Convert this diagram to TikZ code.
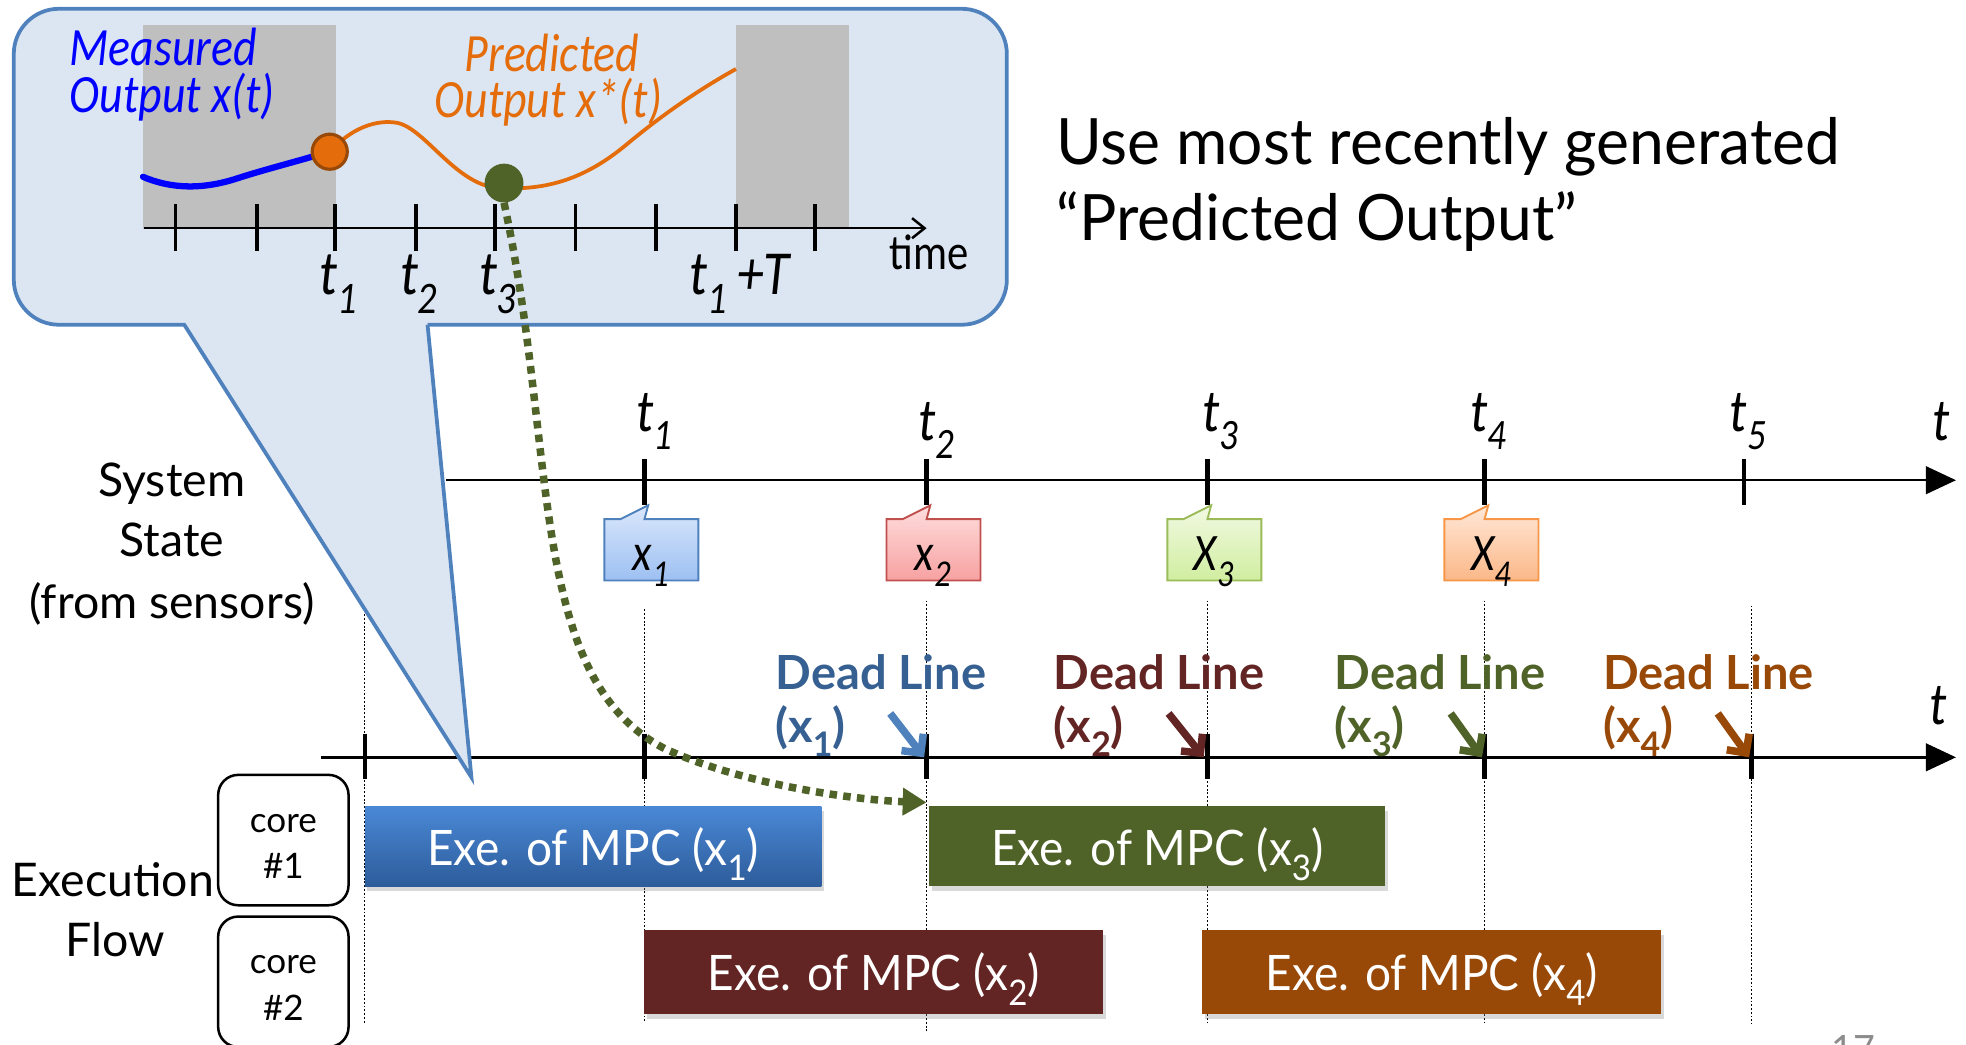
\documentclass[tikz,border=0pt]{standalone}
\usepackage{graphicx}
\usepackage{fontspec}
\setmainfont{Lato}
\newfontfamily\gill{Lato}
\newfontfamily\gillr[FakeStretch=0.975]{Lato}
\newfontfamily\gillc[FakeStretch=0.94]{Lato}
\newfontfamily\calc[FakeStretch=0.85]{Carlito}
\usetikzlibrary{arrows.meta,shadows}
\definecolor{cfill}{HTML}{DCE6F2}
\definecolor{cborder}{HTML}{4F81BD}
\definecolor{greyr}{HTML}{BFBFBF}
\definecolor{mblue}{HTML}{0000FF}
\definecolor{morange}{HTML}{E46C0A}
\definecolor{mbrown}{HTML}{984807}
\definecolor{olive}{HTML}{4F6228}
\definecolor{dlblue}{HTML}{376092}
\definecolor{dlred}{HTML}{632523}
\definecolor{exeblueT}{HTML}{4A88D6}
\definecolor{exeblueB}{HTML}{2D5C9A}
\definecolor{cbT}{HTML}{DAE7FB}
\definecolor{cbB}{HTML}{9DC0F2}
\definecolor{crT}{HTML}{FFDEDE}
\definecolor{crB}{HTML}{F7A1A1}
\definecolor{crD}{HTML}{C0504D}
\definecolor{cgT}{HTML}{F2F9E3}
\definecolor{cgB}{HTML}{D0EEA0}
\definecolor{cgD}{HTML}{9BBB59}
\definecolor{coT}{HTML}{FFE8D9}
\definecolor{coB}{HTML}{FBB888}
\definecolor{coD}{HTML}{F79646}
\newcommand{\fsz}[2]{\fontsize{#1}{#2}\selectfont}
\newcommand{\sbs}[1]{\raisebox{-0.3em}{\scalebox{0.72}{#1}}}
\pgfdeclareradialshading{coreshade}{\pgfpoint{0bp}{0bp}}{color(0bp)=(white); color(30bp)=(white); color(50bp)=(black!30); color(72bp)=(black!45)}
\tikzset{
  tk/.style={line width=3.5pt},
  ctk/.style={line width=3pt},
  vdot/.style={line width=1pt, dash pattern=on 1.5pt off 1.5pt},
  axisline/.style={line width=2pt},
  dlarrow/.style={line width=6pt, -{Straight Barb[length=11pt,width=22pt]}},
  exebox/.style={minimum width=364pt, minimum height=64pt, inner sep=0pt, text=white,
     text height=31pt, text depth=0pt,
     font=\gillc\fsz{39}{45}, drop shadow={shadow xshift=2pt, shadow yshift=-4pt, opacity=0.3}},
  corebox/.style={draw, line width=2pt, rounded corners=16pt, minimum width=104pt, minimum height=104pt,
     shade, shading=coreshade, inner sep=0pt},
  coretext/.style={align=center, font=\gill\fsz{28}{37}, inner sep=0pt},
  scall/.style={line width=1.5pt},
  tlab/.style={anchor=base, font=\calc\itshape\fsz{48}{50}},
  clab/.style={anchor=base, font=\calc\itshape\fsz{50}{52}},
  slab/.style={anchor=base, font=\calc\itshape\fsz{42}{46}},
  dltext/.style={anchor=base west, font=\gill\bfseries\fsz{37.5}{40}},
  sidetext/.style={anchor=base, font=\gill\fsz{37}{40}},
}
\begin{document}
\begin{tikzpicture}[x=1pt,y=-1pt]
\useasboundingbox (0,0) rectangle (1568,833);

% dotted verticals
\foreach \xx/\ya/\yb in {291/490/816, 514/486/816, 739/479/824, 963/479/816, 1184/479/816, 1397/483/817}
  \draw[vdot] (\xx,\ya) -- (\xx,\yb);

% top timeline
\coordinate (ta0) at (356,383);
\coordinate (ta1) at (1560,383);
\draw[axisline, -{Triangle[length=24pt,width=22pt]}] (ta0) -- (ta1);
\foreach \xx in {514,739,963,1184,1391}
  \draw[tk] (\xx,366) -- (\xx,403);

% bottom timeline
\coordinate (ba0) at (256,604);
\coordinate (ba1) at (1560,604);
\draw[axisline, -{Triangle[length=24pt,width=22pt]}] (ba0) -- (ba1);
\foreach \xx in {291,514,739,963,1184,1397}
  \draw[tk] (\xx,585) -- (\xx,621);

% big callout
\draw[fill=cfill, draw=cborder, line width=3pt, rounded corners=36pt] (11,7) rectangle (803,259);
\fill[cfill] (148,250) -- (148,259) -- (376,620) -- (341,259) -- (341,250) -- cycle;
\draw[cborder, line width=3pt, line join=miter] (147,259) -- (376,620) -- (341,259);

% inside callout
\fill[greyr] (114,20) rectangle (268,183);
\fill[greyr] (587,20) rectangle (677,183);
\coordinate (ca0) at (115,182);
\coordinate (ca1) at (739,182);
\draw[line width=2pt, -{Straight Barb[length=10pt,width=16pt]}] (ca0) -- (ca1);
\foreach \xx in {140,205,267,332,395,459,523,587,650}
  \draw[ctk] (\xx,163) -- (\xx,200);
\draw[mblue, line width=5pt, line cap=round] (114,141) .. controls (135,150) and (160,152) .. (190,142) .. controls (215,134) and (240,128) .. (262,121);
\draw[morange, line width=3pt] (262,122) .. controls (280,102) and (300,95) .. (317,98) .. controls (340,103) and (365,150) .. (400,150) .. controls (440,152) and (470,140) .. (500,115) .. controls (530,90) and (560,70) .. (587,55);
\node[circle, fill=morange, draw=mbrown, line width=2.5pt, minimum size=28pt, inner sep=0pt] (odot) at (263,121) {};
\node[circle, fill=olive, minimum size=31pt, inner sep=0pt] (gdot) at (402,146) {};

\node[anchor=base west, text=mblue, font=\calc\itshape\fsz{43}{46}] (meas1) at (52,52) {Measured};
\node[anchor=base west, text=mblue, font=\calc\itshape\fsz{43}{46}] (meas2) at (52,90) {Output x(t)};
\node[anchor=base west, text=morange, font=\calc\itshape\fsz{43}{46}] (pred1) at (367,57) {Predicted};
\node[anchor=base west, text=morange, font=\calc\itshape\fsz{43}{46}] (pred2) at (343,94) {Output x*(t)};

\node[clab] (ct1) at (270,235) {t\sbs{1}};
\node[clab] (ct2) at (334,235) {t\sbs{2}};
\node[clab] (ct3) at (397,235) {t\sbs{3}};
\node[clab] (ct1T) at (590,235) {t\sbs{1}\,+T};
\node[anchor=base, font=\calc\fsz{40}{42}] (ctime) at (741,215) {time};

% right text
\node[anchor=base west, font=\gillr\fsz{51}{56}] (use1) at (839,131) {Use most recently generated};
\node[anchor=base west, font=\gillr\fsz{51}{56}] (use2) at (839,192) {“Predicted Output”};

% left texts
\node[sidetext] (sys1) at (137,396) {System};
\node[sidetext] (sys2) at (137,444) {State};
\node[sidetext] (sys3) at (137,493) {(from sensors)};
\node[sidetext] (ex1) at (90,715) {Execution};
\node[sidetext] (ex2) at (92,763) {Flow};

% top timeline labels
\node[tlab] (t1) at (522,344) {t\sbs{1}};
\node[tlab] (t2) at (747,351) {t\sbs{2}};
\node[tlab] (t3) at (973,344) {t\sbs{3}};
\node[tlab] (t4) at (1187,344) {t\sbs{4}};
\node[tlab] (t5) at (1394,344) {t\sbs{5}};
\node[tlab] (tt) at (1548,351) {t};
\node[tlab] (tb) at (1546,578) {t};

% small callouts
\foreach \xx/\ct/\cb/\cd/\lab in {514/cbT/cbB/cborder/x\sbs{1}, 739/crT/crB/crD/x\sbs{2}, 963/cgT/cgB/cgD/X\sbs{3}, 1184/coT/coB/coD/X\sbs{4}}{
  \shade[top color=\ct, bottom color=\cb, draw=\cd, scall]
    (\xx-32,414) -- (\xx-19,414) -- (\xx+3,403) -- (\xx,414) -- (\xx+43,414) -- (\xx+43,463) -- (\xx-32,463) -- cycle;
  \node[slab] at (\xx+5,455) {\lab};
}

% dead lines
\node[dltext, text=dlblue] (d1a) at (615,550) {Dead Line};
\node[dltext, text=dlblue] (d1b) at (615,592) {(x\sbs{1})};
\node[dltext, text=dlred] (d2a) at (837,550) {Dead Line};
\node[dltext, text=dlred] (d2b) at (837,592) {(x\sbs{2})};
\node[dltext, text=olive] (d3a) at (1061,550) {Dead Line};
\node[dltext, text=olive] (d3b) at (1061,592) {(x\sbs{3})};
\node[dltext, text=mbrown] (d4a) at (1275,550) {Dead Line};
\node[dltext, text=mbrown] (d4b) at (1275,592) {(x\sbs{4})};
\coordinate (a1s) at (710,569); \coordinate (a1e) at (737,604);
\coordinate (a2s) at (932,569); \coordinate (a2e) at (960,604);
\coordinate (a3s) at (1157,569); \coordinate (a3e) at (1182,604);
\coordinate (a4s) at (1370,569); \coordinate (a4e) at (1395,604);
\draw[dlarrow, cborder] (a1s) -- (a1e);
\draw[dlarrow, dlred] (a2s) -- (a2e);
\draw[dlarrow, olive] (a3s) -- (a3e);
\draw[dlarrow, mbrown] (a4s) -- (a4e);

% cores
\node[corebox] (core1) at (226,670) {};
\node[coretext] (core1l) at (226,675) {core\\\#1};
\node[corebox] (core2) at (226,783) {};
\node[coretext] (core2l) at (226,788) {core\\\#2};

% execution boxes
\node[exebox, top color=exeblueT, bottom color=exeblueB] (e1) at (473,675) {Exe. of MPC (x\sbs{1})};
\node[exebox, fill=olive] (e3) at (923,675) {Exe. of MPC (x\sbs{3})};
\node[exebox, fill=dlred, minimum width=366pt, minimum height=67pt, text height=29pt] (e2) at (697,775.5) {Exe. of MPC (x\sbs{2})};
\node[exebox, fill=mbrown, minimum width=366pt, minimum height=67pt, text height=29pt] (e4) at (1142,775.5) {Exe. of MPC (x\sbs{4})};

% green dotted arrow
\coordinate (gtip) at (739,640);
\draw[olive, line width=6pt, dash pattern=on 6pt off 5pt, -{Triangle[length=19pt,width=21pt]}]
  (gdot.south) .. controls (445,360) and (420,540) .. (530,597) .. controls (590,625) and (680,638) .. (gtip);

% page number (cut off)
\begin{scope}
\clip (0,0) rectangle (1568,833);
\node[anchor=north, text=black!45, font=\gill\fsz{30}{30}, inner sep=0pt] (pg) at (1478,826) {17};
\end{scope}
\end{tikzpicture}
\end{document}
